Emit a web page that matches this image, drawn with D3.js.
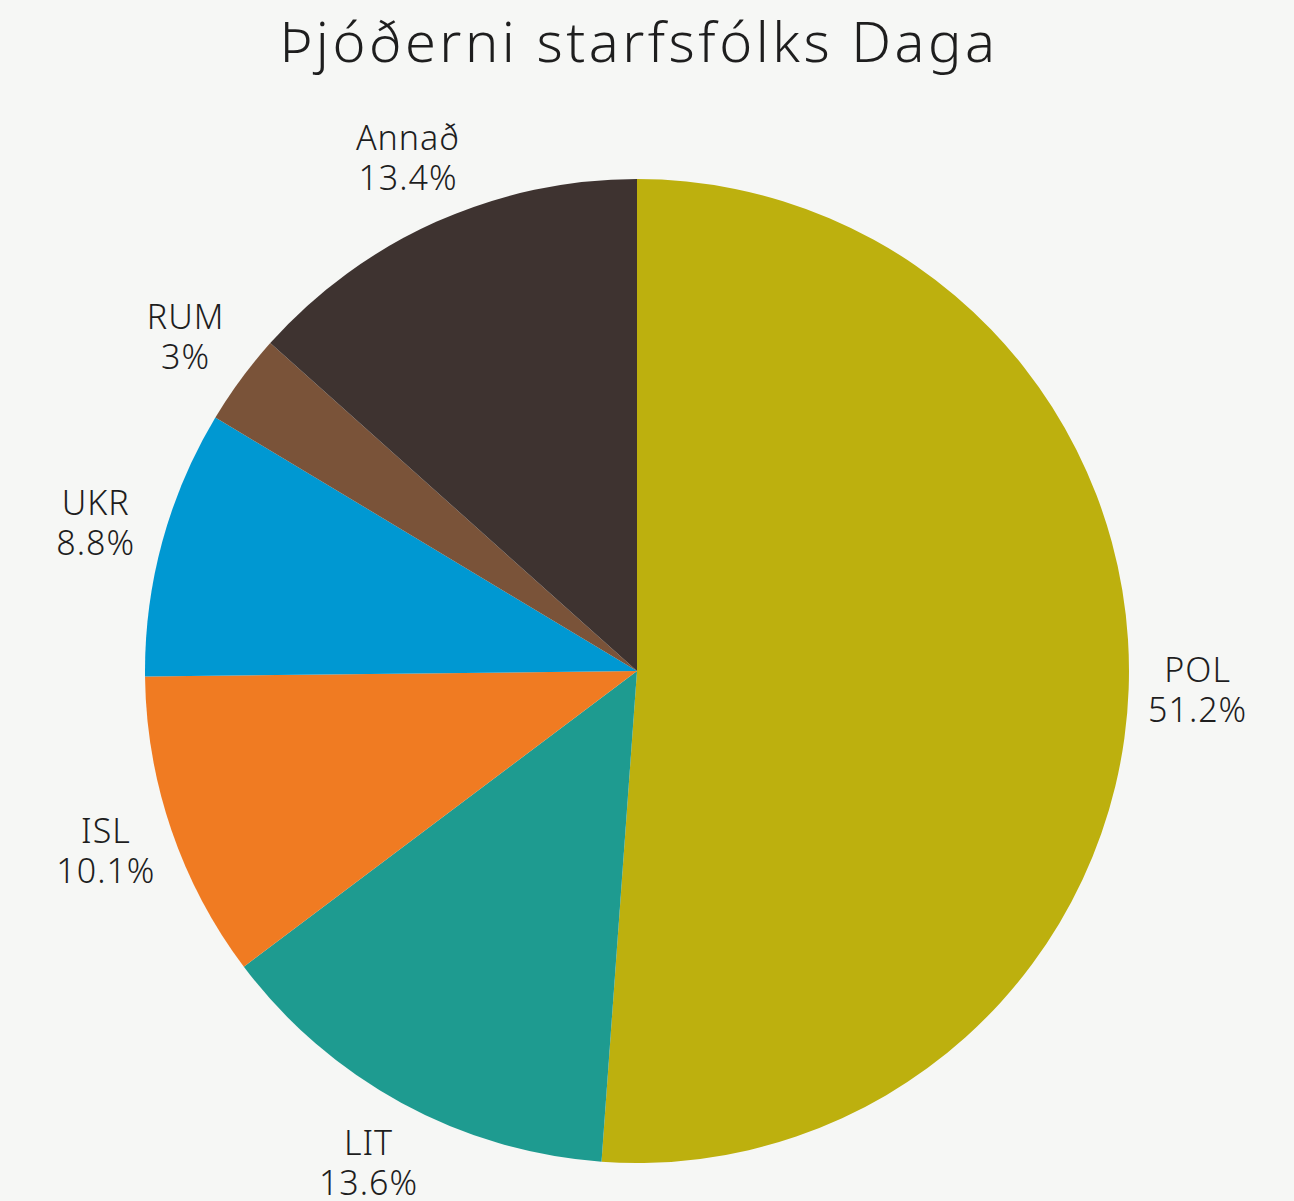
<!DOCTYPE html>
<html><head><meta charset="utf-8">
<script src="https://cdn.jsdelivr.net/npm/d3@7"></script>
<style>
html,body{margin:0;padding:0;background:#f6f7f5;}
svg{display:block;}
text{font-family:"Noto Sans",Lato,sans-serif;fill:#1e1e1e;font-weight:300;}
</style></head>
<body>
<script>
const title = "Þjóðerni starfsfólks Daga";
const categories = ["POL","LIT","ISL","UKR","RUM","Annað"];
const values = [51.2,13.6,10.1,8.8,3,13.4];
const valueLabels = ["51.2%","13.6%","10.1%","8.8%","3%","13.4%"];
const colors = ["#bdb00e","#1e9b90","#f07b22","#0098d2","#7a5339","#3e3330"];

const W=1294,H=1201,cx=637,cy=671,R=492,LR=561;
const svg=d3.select("body").append("svg").attr("width",W).attr("height",H);
svg.append("rect").attr("width",W).attr("height",H).attr("fill","#f6f7f5");

svg.append("text").attr("x",639).attr("y",62).attr("text-anchor","middle")
  .attr("font-size",56).attr("letter-spacing",3.5).text(title);

const data=categories.map((c,i)=>({c,v:values[i],l:valueLabels[i],col:colors[i]}));
const pie=d3.pie().sort(null).value(d=>d.v);
const arc=d3.arc().innerRadius(0).outerRadius(R);
const larc=d3.arc().innerRadius(LR).outerRadius(LR);
const g=svg.append("g").attr("transform",`translate(${cx},${cy})`);
const arcs=pie(data);
g.selectAll("path").data(arcs).join("path").attr("d",arc).attr("fill",d=>d.data.col);
const t=g.selectAll("text.lab").data(arcs).join("text").attr("class","lab")
  .attr("text-anchor","middle").attr("font-size",34).attr("letter-spacing",1)
  .attr("transform",d=>{const [x,y]=larc.centroid(d);return `translate(${x},${y})`;});
t.append("tspan").attr("x",0).attr("y",-9).text(d=>d.data.c);
t.append("tspan").attr("x",0).attr("y",31).text(d=>d.data.l);
</script>
</body></html>
